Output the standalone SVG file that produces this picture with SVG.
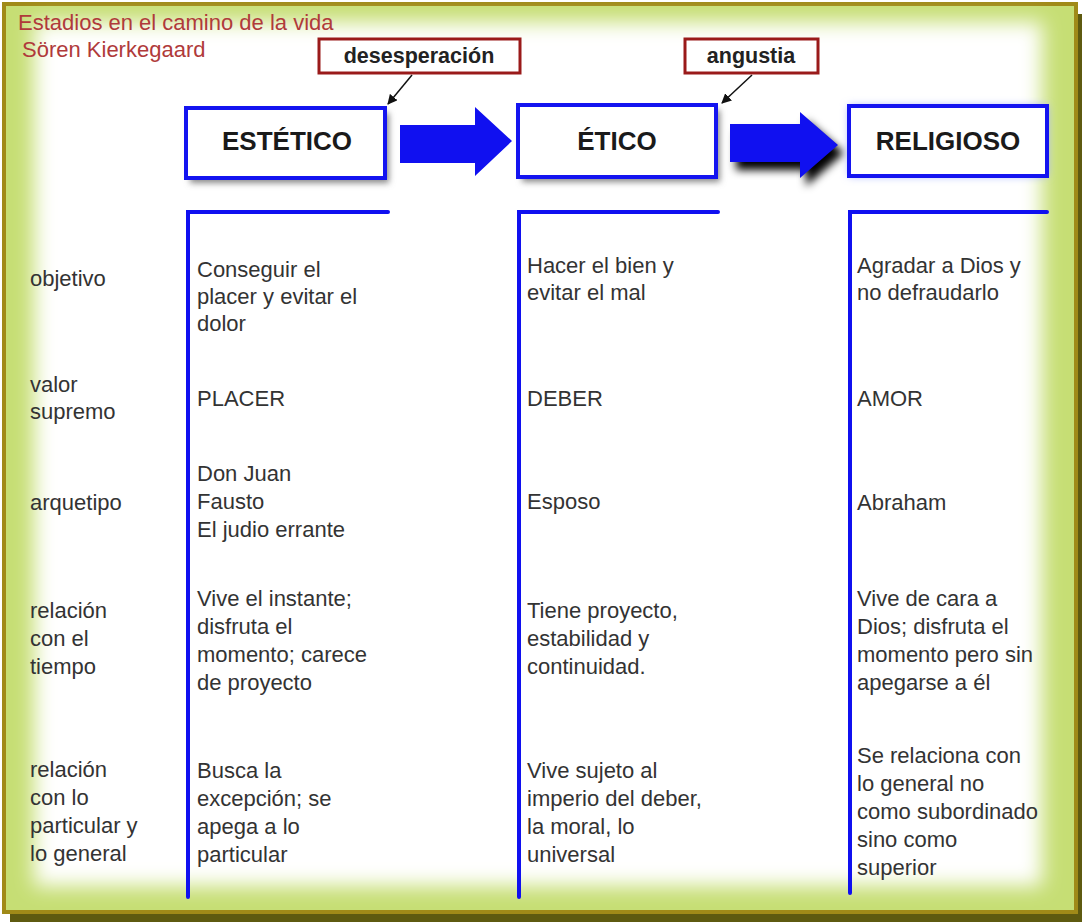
<svg xmlns="http://www.w3.org/2000/svg" width="1082" height="924" viewBox="0 0 1082 924">
<defs>
<style>
.t{font-family:"Liberation Sans",Arial,sans-serif;font-size:22px;fill:#333}
.title{font-family:"Liberation Sans",Arial,sans-serif;font-size:22px;fill:#b03a3a}
.hd{font-family:"Liberation Sans",Arial,sans-serif;font-size:26px;font-weight:bold;fill:#1a1a1a;text-anchor:middle}
.lb{font-family:"Liberation Sans",Arial,sans-serif;font-size:21.5px;font-weight:bold;fill:#222;text-anchor:middle}
.box{fill:#fff;stroke:#1414f0;stroke-width:4}
.lbox{fill:#fff;stroke:#9a1a1a;stroke-width:3}
.col{fill:none;stroke:#1010f0;stroke-width:4;stroke-linecap:round}
.lead{stroke:#111;stroke-width:1.5;fill:none}
</style>
<filter id="blurbg" x="-10%" y="-10%" width="120%" height="120%"><feGaussianBlur stdDeviation="10"/></filter>
<filter id="sh" x="-20%" y="-20%" width="150%" height="160%"><feGaussianBlur stdDeviation="3"/></filter>
<filter id="sh2" x="-30%" y="-30%" width="160%" height="180%"><feGaussianBlur stdDeviation="4"/></filter>
<marker id="ah" markerWidth="10" markerHeight="10" refX="9" refY="5" orient="auto" markerUnits="userSpaceOnUse"><path d="M0,0 L10,5 L0,10 Z" fill="#111"/></marker>
</defs>

<!-- background frame -->
<g id="frame">
<rect x="0" y="0" width="1082" height="924" fill="#ffffff"/>
<rect x="10" y="14" width="1072" height="908" fill="#5e5a10"/>
<rect x="4" y="4" width="1072" height="908" fill="#c6de74" stroke="#a08a18" stroke-width="4"/>
<rect x="34" y="22" width="1008" height="864" fill="#ffffff" filter="url(#blurbg)"/>
</g>

<g id="title">
<text class="title" x="18" y="30">Estadios en el camino de la vida</text>
<text class="title" x="22" y="57">Sören Kierkegaard</text>
</g>

<!-- connectors -->
<g id="connectors">
<line class="lead" x1="412" y1="75" x2="388" y2="104" marker-end="url(#ah)"/>
<line class="lead" x1="752" y1="75" x2="722" y2="103" marker-end="url(#ah)"/>
<path d="M400,125 L475,125 L475,107 L512,141 L475,176 L475,163 L400,163 Z" fill="#1010f0"/>
<path d="M736,132 L806,132 L806,120 L844,153 L806,186 L806,170 L736,170 Z" fill="#000" filter="url(#sh2)"/>
<path d="M730,124 L800,124 L800,112 L838,145 L800,178 L800,162 L730,162 Z" fill="#1010f0"/>
</g>

<g id="label-desesperacion">
<rect x="319" y="39" width="201" height="34" class="lbox"/>
<text class="lb" x="419" y="63">desesperación</text>
</g>
<g id="label-angustia">
<rect x="685" y="39" width="133" height="34" class="lbox"/>
<text class="lb" x="751" y="63">angustia</text>
</g>

<g id="node-estetico">
<rect x="190" y="113" width="199" height="70" fill="#888" filter="url(#sh)"/>
<rect x="186" y="108" width="199" height="70" class="box"/>
<text class="hd" x="287" y="150">ESTÉTICO</text>
</g>
<g id="node-etico">
<rect x="522" y="110" width="198" height="72" fill="#888" filter="url(#sh)"/>
<rect x="518" y="105" width="198" height="72" class="box"/>
<text class="hd" x="617" y="150">ÉTICO</text>
</g>
<g id="node-religioso">
<rect x="849" y="106" width="198" height="70" fill="#9aa8ff" filter="url(#sh2)"/>
<rect x="849" y="106" width="198" height="70" class="box"/>
<text class="hd" x="948" y="150">RELIGIOSO</text>
</g>

<!-- columns -->
<g id="columns">
<path class="col" d="M188,897 L188,212 L388,212"/>
<path class="col" d="M519,897 L519,212 L718,212"/>
<path class="col" d="M850,893 L850,212 L1047,212"/>
</g>

<g id="row-labels">
<text class="t" x="30" y="286">objetivo</text>
<text class="t" x="30" y="392">valor</text>
<text class="t" x="30" y="419">supremo</text>
<text class="t" x="30" y="510">arquetipo</text>
<text class="t" x="30" y="618">relación</text>
<text class="t" x="30" y="646">con el</text>
<text class="t" x="30" y="674">tiempo</text>
<text class="t" x="30" y="777">relación</text>
<text class="t" x="30" y="805">con lo</text>
<text class="t" x="30" y="833">particular y</text>
<text class="t" x="30" y="861">lo general</text>
</g>

<g id="col-estetico">
<text class="t" x="197" y="277">Conseguir el</text>
<text class="t" x="197" y="304">placer y evitar el</text>
<text class="t" x="197" y="331">dolor</text>
<text class="t" x="197" y="406">PLACER</text>
<text class="t" x="197" y="481">Don Juan</text>
<text class="t" x="197" y="509">Fausto</text>
<text class="t" x="197" y="537">El judio errante</text>
<text class="t" x="197" y="606">Vive el instante;</text>
<text class="t" x="197" y="634">disfruta el</text>
<text class="t" x="197" y="662">momento; carece</text>
<text class="t" x="197" y="690">de proyecto</text>
<text class="t" x="197" y="778">Busca la</text>
<text class="t" x="197" y="806">excepción; se</text>
<text class="t" x="197" y="834">apega a lo</text>
<text class="t" x="197" y="862">particular</text>
</g>

<g id="col-etico">
<text class="t" x="527" y="273">Hacer el bien y</text>
<text class="t" x="527" y="300">evitar el mal</text>
<text class="t" x="527" y="406">DEBER</text>
<text class="t" x="527" y="509">Esposo</text>
<text class="t" x="527" y="618">Tiene proyecto,</text>
<text class="t" x="527" y="646">estabilidad y</text>
<text class="t" x="527" y="674">continuidad.</text>
<text class="t" x="527" y="778">Vive sujeto al</text>
<text class="t" x="527" y="806">imperio del deber,</text>
<text class="t" x="527" y="834">la moral, lo</text>
<text class="t" x="527" y="862">universal</text>
</g>

<g id="col-religioso">
<text class="t" x="857" y="273">Agradar a Dios y</text>
<text class="t" x="857" y="300">no defraudarlo</text>
<text class="t" x="857" y="406">AMOR</text>
<text class="t" x="857" y="510">Abraham</text>
<text class="t" x="857" y="606">Vive de cara a</text>
<text class="t" x="857" y="634">Dios; disfruta el</text>
<text class="t" x="857" y="662">momento pero sin</text>
<text class="t" x="857" y="690">apegarse a él</text>
<text class="t" x="857" y="763">Se relaciona con</text>
<text class="t" x="857" y="791">lo general no</text>
<text class="t" x="857" y="819">como subordinado</text>
<text class="t" x="857" y="847">sino como</text>
<text class="t" x="857" y="875">superior</text>
</g>
</svg>
